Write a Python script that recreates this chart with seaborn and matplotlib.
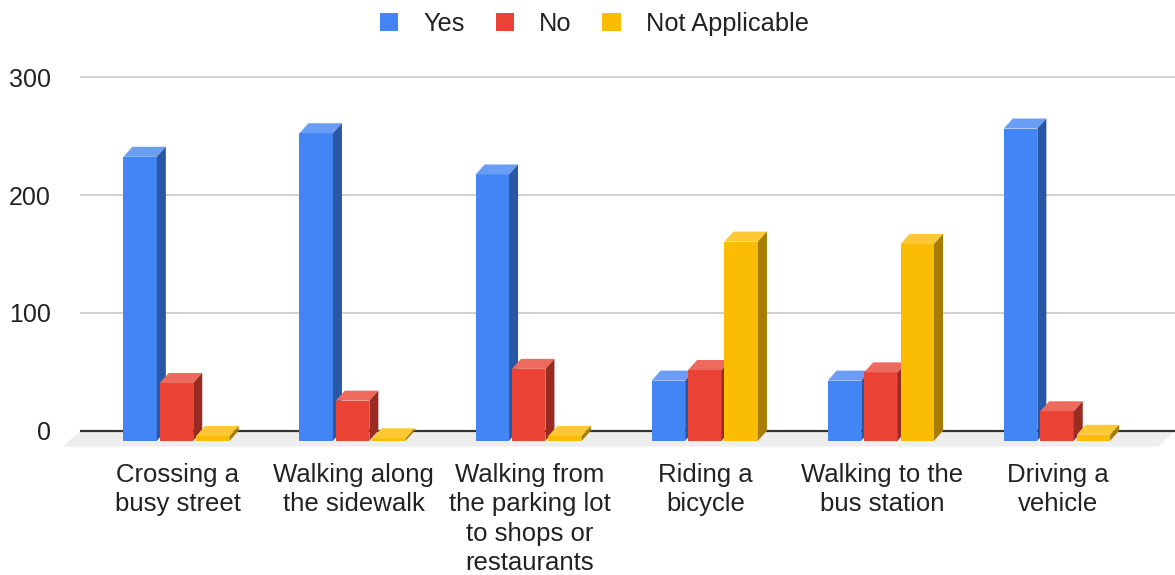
import numpy as np
import pandas as pd
import matplotlib
matplotlib.use("Agg")
import matplotlib.pyplot as plt
from matplotlib.patches import Polygon
import seaborn as sns

# survey data
categories = ["Crossing a\nbusy street", "Walking along\nthe sidewalk",
              "Walking from\nthe parking lot\nto shops or\nrestaurants",
              "Riding a\nbicycle", "Walking to the\nbus station", "Driving a\nvehicle"]
answers = ["Yes", "No", "Not Applicable"]
yes = [241, 261, 226, 51, 51, 265]
no = [49, 34, 61, 60, 58, 25]
not_applicable = [4, 2, 4, 169, 167, 5]

front = ["#4285F4", "#EA4335", "#FBBC04"]
side = ["#2A56A6", "#9A2B23", "#A67C02"]
top = ["#6A9DF6", "#EE6A5F", "#FCC834"]

df = pd.DataFrame({
    "category": categories * 3,
    "answer": [a for a in answers for _ in categories],
    "count": yes + no + not_applicable,
})

sns.set_theme(style="white")
plt.rcParams["font.family"] = ["Liberation Sans", "DejaVu Sans"]

W, H = 1175, 575
fig = plt.figure(figsize=(W / 100, H / 100), dpi=100)
# axes: x from 80px to right edge, y 0 at 430.7px, 300 at 77.3px
ax = fig.add_axes([80 / W, (H - 455) / H, (W - 80) / W, (455 - 70) / H])

sns.barplot(data=df, x="category", y="count", hue="answer", hue_order=answers,
            palette=front, saturation=1, width=0.62, gap=0.08, linewidth=0,
            ax=ax, legend=True)

px_unit_x = 176.1
ax.set_xlim(-105.5 / px_unit_x, 5 + (W - 1066) / px_unit_x)
ax.set_ylim(-(455 - 430.7) / 1.178, 300 + (77.3 - 70) / 1.178)

# pixel -> data conversions
p0 = ax.transData.transform((0, 0))
p1 = ax.transData.transform((1, 1))
sx = p1[0] - p0[0]
sy = p1[1] - p0[1]
dx, dy = 9 / sx, 10 / sy  # 3d depth of the bars

# floor
x_left, x_right = ax.get_xlim()
x_fig_right = x_left + (W - 80) / sx
fdx, fdy = 17 / sx, 16 / sy
floor = Polygon([(x_left, 0), (x_fig_right, 0), (x_fig_right - fdx, -fdy), (x_left - fdx, -fdy)],
                closed=True, facecolor="#EEEEEE", edgecolor="none", zorder=1, clip_on=False)
ax.add_patch(floor)
ax.plot([x_left, x_fig_right], [0, 0], color="#333333", lw=1.6, zorder=2,
        clip_on=False, solid_capstyle="butt")

for k, cont in enumerate(ax.containers):
    for bar in cont:
        x0 = bar.get_x()
        w = bar.get_width()
        h = bar.get_height()
        z = 3 + k
        # front face shifted toward the viewer
        bar.set_x(x0 - dx)
        bar.set_y(-dy)
        bar.set_zorder(z)
        bar.set_clip_on(False)
        xl, xr = x0 - dx, x0 - dx + w
        top_face = Polygon([(xl, h - dy), (xr, h - dy), (xr + dx, h), (xl + dx, h)],
                           closed=True, facecolor=top[k], edgecolor="none", zorder=z, clip_on=False)
        side_face = Polygon([(xr, h - dy), (xr + dx, h), (xr + dx, 0), (xr, -dy)],
                            closed=True, facecolor=side[k], edgecolor="none", zorder=z, clip_on=False)
        ax.add_patch(top_face)
        ax.add_patch(side_face)

ax.set_yticks([0, 100, 200, 300])
ax.yaxis.grid(True, color="#CCCCCC", lw=1.3)
ax.set_axisbelow(True)
ax.set_xticks(np.arange(len(categories)) - dx + 1 / sx, categories)
ax.tick_params(axis="x", length=0, pad=6, labelsize=18.5, labelcolor="#222222")
ax.tick_params(axis="y", length=0, pad=21, labelsize=18, labelcolor="#222222")
for lab in ax.get_xticklabels():
    lab.set_linespacing(1.27)
ax.set_xlabel("")
ax.set_ylabel("")
sns.despine(ax=ax, left=True, bottom=True)

handles, labels = ax.get_legend_handles_labels()
ax.get_legend().remove()
fig.legend(handles, labels, loc="center", bbox_to_anchor=(0.506, 1 - 24 / H), ncol=3,
           frameon=False, fontsize=18.3, handlelength=0.72, handleheight=0.72,
           handletextpad=1.0, columnspacing=1.2, labelcolor="#222222")

fig.savefig("out.png", dpi=100)
